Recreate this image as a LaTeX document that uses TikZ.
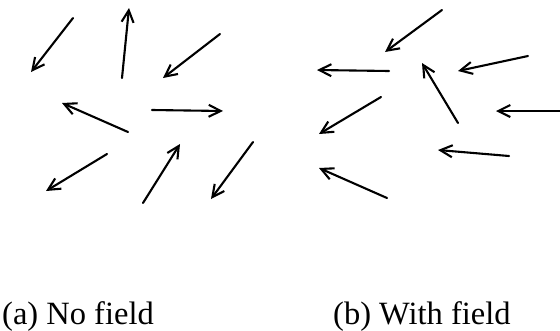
\documentclass[tikz,border=0pt]{standalone}
\usepackage{fontspec}
\setmainfont{Liberation Serif}
\usetikzlibrary{arrows.meta}
\begin{document}
\begin{tikzpicture}[x=1pt,y=-1pt,
  vec/.style={-{Straight Barb[length=12pt,width=12pt,line width=2.1pt]},line width=2.1pt,line cap=round},
  caption/.style={font=\fontsize{32.5}{36}\selectfont,inner sep=0pt,anchor=base west}]
\useasboundingbox (0,0) rectangle (560,330);
% (a) No field
\draw[vec] (73,18) -- (31,72);
\draw[vec] (122,78) -- (129,8);
\draw[vec] (220,34) -- (163,78);
\draw[vec] (128,132) -- (62,103);
\draw[vec] (152,110) -- (223,111);
\draw[vec] (107,154) -- (46,191);
\draw[vec] (143,203) -- (180,144);
\draw[vec] (253,142) -- (211,199);
% (b) With field
\draw[vec] (442,10) -- (385,52);
\draw[vec] (389,71) -- (317,70);
\draw[vec] (528,56) -- (458,71);
\draw[vec] (458,123) -- (422,63);
\draw[vec] (562,111) -- (496,111);
\draw[vec] (381,97) -- (319,134);
\draw[vec] (509,156) -- (438,150);
\draw[vec] (387,198) -- (319,168);
\node[caption] (la) at (2,324) {(a) No field};
\node[caption] (lb) at (333,324) {(b) With field};
\end{tikzpicture}
\end{document}
